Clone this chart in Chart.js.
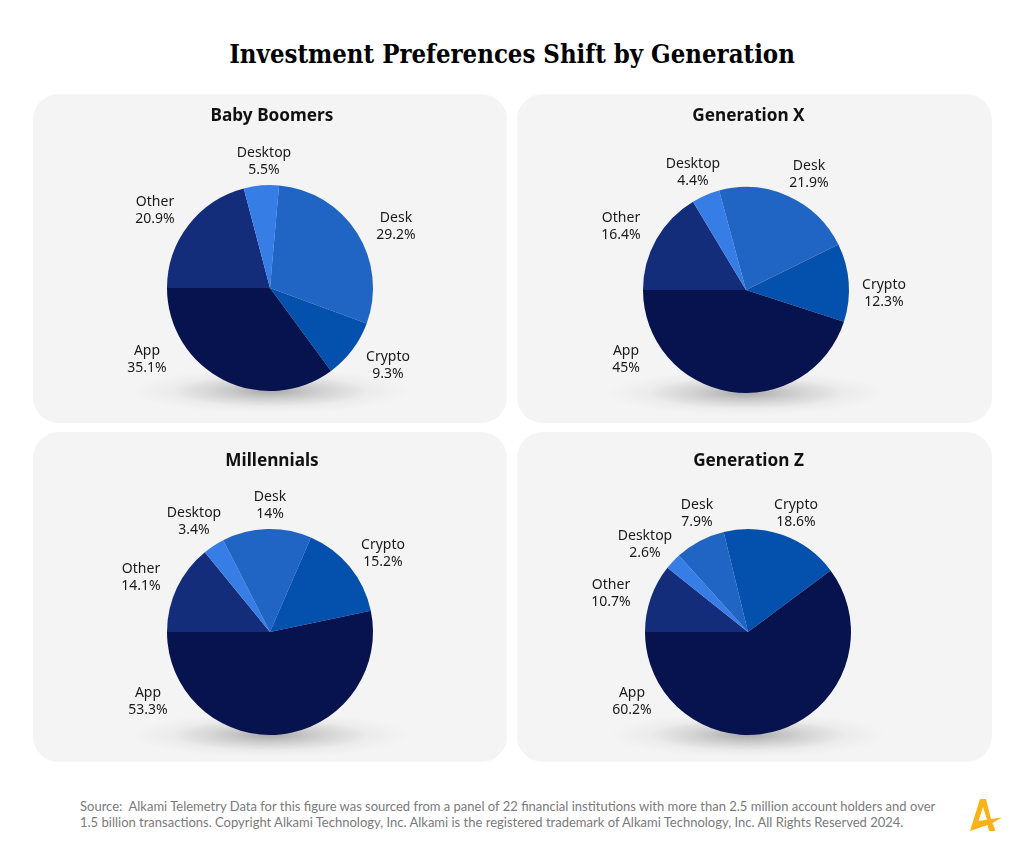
<!DOCTYPE html>
<html>
<head>
<meta charset="utf-8">
<script src="https://cdn.jsdelivr.net/npm/chart.js@4"></script>
<style>
  html, body { margin: 0; padding: 0; background: #fff; }
  body { position: relative; width: 1024px; height: 865px; overflow: hidden; font-family: Lato, sans-serif; }
  h1 { position: absolute; left: 0; top: 39px; width: 1024px; margin: 0; text-align: center; font: bold 25.5px "DejaVu Serif Condensed", "DejaVu Serif", serif; color: #000; white-space: nowrap; }
  .card { position: absolute; background: #f4f4f4; border-radius: 26px; }
  .card h2 { position: absolute; left: 0; right: 0; margin: 0; text-align: center; font: bold 17.2px "Noto Sans", sans-serif; color: #111; }
  .card canvas { position: absolute; left: 0; top: 0; }
  .source { position: absolute; left: 80px; top: 798px; font: 13px/16px Lato, sans-serif; color: #7a7a7a; white-space: nowrap; }
  svg.logo { position: absolute; left: 960px; top: 790px; }
</style>
</head>
<body>
<h1>Investment Preferences Shift by Generation</h1>
<div id="cards"></div>
<div class="source">Source:&nbsp; Alkami Telemetry Data for this figure was sourced from a panel of 22 financial institutions with more than 2.5 million account holders and over<br>1.5 billion transactions. Copyright Alkami Technology, Inc. Alkami is the registered trademark of Alkami Technology, Inc. All Rights Reserved 2024.</div>
<svg class="logo" width="50" height="45" viewBox="0 0 50 45"><path d="M20 9 L26 9 L31 29 L42 27.5 L32.5 33 L35.5 41 L29 41 L27.5 35 L10 41 Z M23 17 L18.5 31 L27 29.8 Z" fill="#fbb216" fill-rule="evenodd"/></svg>

<script>
const categories = ['Other', 'Desktop', 'Desk', 'Crypto', 'App'];
const sliceColors = ['#142d7a', '#377de6', '#2064c4', '#0350ad', '#06134f'];

const boomerValues = [20.9, 5.5, 29.2, 9.3, 35.1];
const genXValues = [16.4, 4.4, 21.9, 12.3, 45];
const millennialValues = [14.1, 3.4, 14, 15.2, 53.3];
const genZValues = [10.7, 2.6, 7.9, 18.6, 60.2];

// label spots, measured from the middle of the pie
const boomerSpots = [[-115, -77], [-6, -126], [126, -61], [118, 78], [-123, 72]];
const genXSpots = [[-125, -63], [-53, -117], [63, -115], [138, 4], [-120, 70]];
const millennialSpots = [[-129, -54], [-76, -110], [0, -126], [113, -78], [-122, 70]];
const genZSpots = [[-137, -38], [-103, -87], [-51, -118], [48, -118], [-116, 70]];

const pieLabels = {
    id: 'pieLabels',
    afterDatasetsDraw(chart, args, opts) {
        const ctx = chart.ctx;
        const arcs = chart.getDatasetMeta(0).data;
        ctx.save();
        ctx.font = '14px "Noto Sans", sans-serif';
        ctx.fillStyle = '#1a1a1a';
        ctx.textAlign = 'center';
        ctx.textBaseline = 'middle';
        arcs.forEach((arc, i) => {
            const x = arc.x + opts.spots[i][0];
            const y = arc.y + opts.spots[i][1];
            ctx.fillText(categories[i], x, y - 8.5);
            ctx.fillText(chart.data.datasets[0].data[i] + '%', x, y + 8.5);
        });
        ctx.restore();
    }
};

// soft shadow lying under the pie
const pieShadow = {
    id: 'pieShadow',
    beforeDatasetsDraw(chart) {
        const ctx = chart.ctx;
        const arc = chart.getDatasetMeta(0).data[0];
        const y = arc.y + arc.outerRadius;
        ctx.save();
        ctx.translate(arc.x, y);
        ctx.scale(1, 0.16);
        const glow = ctx.createRadialGradient(0, 0, 0, 0, 0, 140);
        glow.addColorStop(0, 'rgba(0,0,0,0.30)');
        glow.addColorStop(0.35, 'rgba(0,0,0,0.15)');
        glow.addColorStop(0.7, 'rgba(0,0,0,0.03)');
        glow.addColorStop(1, 'rgba(0,0,0,0)');
        ctx.fillStyle = glow;
        ctx.beginPath();
        ctx.arc(0, 0, 140, 0, Math.PI * 2);
        ctx.fill();
        ctx.restore();
    }
};

function addCard(name, values, spots, box, title, padding) {
    const card = document.createElement('div');
    card.className = 'card';
    card.style.cssText = `left:${box.x}px;top:${box.y}px;width:${box.w}px;height:${box.h}px`;
    card.innerHTML = `<canvas width="${box.w}" height="${box.h}"></canvas>` +
        `<h2 style="top:${title.top}px;transform:translateX(${title.shift}px)">${name}</h2>`;
    document.getElementById('cards').appendChild(card);

    new Chart(card.querySelector('canvas'), {
        type: 'pie',
        data: {
            labels: categories,
            datasets: [{ data: values, backgroundColor: sliceColors, borderWidth: 0 }]
        },
        options: {
            responsive: false,
            animation: false,
            rotation: 270,
            layout: { padding: padding },
            plugins: {
                legend: { display: false },
                tooltip: { enabled: false },
                pieLabels: { spots: spots }
            }
        },
        plugins: [pieShadow, pieLabels]
    });
}

addCard('Baby Boomers', boomerValues, boomerSpots, { x: 33, y: 94, w: 474, h: 329 }, { top: 9, shift: 2 }, { top: 91, bottom: 32 });
addCard('Generation X', genXValues, genXSpots, { x: 517, y: 94, w: 475, h: 329 }, { top: 9, shift: -6 }, { top: 93, bottom: 30, right: 17 });
addCard('Millennials', millennialValues, millennialSpots, { x: 33, y: 432, w: 474, h: 330 }, { top: 16, shift: 2 }, { top: 97, bottom: 27 });
addCard('Generation Z', genZValues, genZSpots, { x: 517, y: 432, w: 475, h: 330 }, { top: 16, shift: -6 }, { top: 97, bottom: 27, right: 13 });
</script>
</body>
</html>
